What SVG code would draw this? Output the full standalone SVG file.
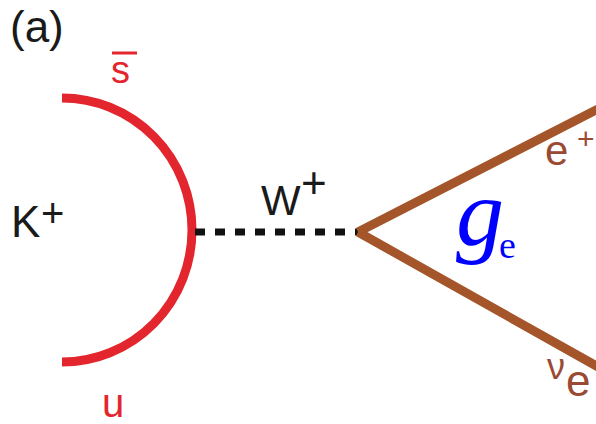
<svg xmlns="http://www.w3.org/2000/svg" width="596" height="424" viewBox="0 0 596 424">
<style>
.sans{font-family:"Liberation Sans",Arial,sans-serif}
.serif{font-family:"Liberation Serif","Times New Roman",serif}
.red{fill:#e3262d}
.brn{fill:#9a4a32}
.blk{fill:#1a1a1a}
.lep{stroke:#a4552a;stroke-width:9;fill:none;stroke-linecap:butt}
</style>
<rect width="596" height="424" fill="#ffffff"/>
<g id="label-a"><text class="sans blk" x="10" y="42" font-size="44">(a)</text></g>
<g id="kaon">
<path d="M 62 98 A 130 132 0 0 1 62 362" fill="none" stroke="#e3262d" stroke-width="9"/>
<text class="sans blk" x="11" y="237" font-size="44">K</text>
<text class="sans blk" x="41" y="227" font-size="40">+</text>
<text class="sans red" x="111" y="83" font-size="38">s</text>
<line x1="112" y1="53" x2="137" y2="53" stroke="#e3262d" stroke-width="3"/>
<text class="sans red" x="102" y="417" font-size="40">u</text>
</g>
<g id="connectors">
<line x1="195" y1="232" x2="362" y2="232" stroke="#111" stroke-width="7" stroke-dasharray="10 10"/>
<line class="lep" x1="358" y1="232" x2="600" y2="108"/>
<line class="lep" x1="358" y1="232" x2="600" y2="368"/>
</g>
<g id="w-boson">
<text class="sans blk" x="261" y="215" font-size="42">W</text>
<text class="sans blk" x="301" y="198" font-size="44">+</text>
</g>
<g id="positron">
<text class="sans brn" x="545" y="165" font-size="42">e</text>
<text class="sans brn" x="577" y="149" font-size="30">+</text>
</g>
<g id="neutrino">
<text class="sans brn" x="547" y="379" font-size="36">ν</text>
<text class="sans brn" x="566" y="396" font-size="44">e</text>
</g>
<g id="coupling">
<text class="serif" x="456" y="245" font-size="96" font-style="italic" fill="#0000ff">g</text>
<text class="serif" x="499" y="258" font-size="38" fill="#0000ff">e</text>
</g>
</svg>
